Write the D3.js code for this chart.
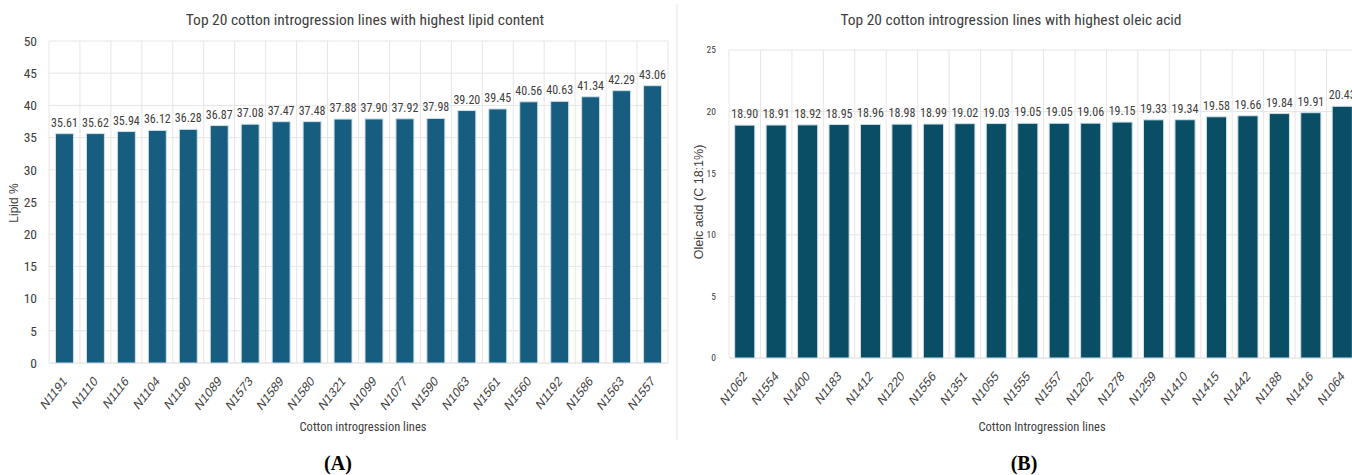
<!DOCTYPE html>
<html>
<head>
<meta charset="utf-8">
<script src="https://cdn.jsdelivr.net/npm/d3@7"></script>
<style>
  body { margin: 0; background: #fff; }
  svg { display: block; }
  .narrow { font-family: "Liberation Sans Narrow", "Roboto Condensed", "Liberation Sans", sans-serif; }
</style>
</head>
<body>
<svg id="chart" width="1352" height="475"></svg>
<script>
// panel A: lipid content
const lipidLines = ["N1191", "N1110", "N1116", "N1104", "N1190", "N1089", "N1573", "N1589", "N1580", "N1321",
    "N1099", "N1077", "N1590", "N1063", "N1561", "N1560", "N1192", "N1586", "N1563", "N1557"];
const lipidValues = [35.61, 35.62, 35.94, 36.12, 36.28, 36.87, 37.08, 37.47, 37.48, 37.88,
    37.90, 37.92, 37.98, 39.20, 39.45, 40.56, 40.63, 41.34, 42.29, 43.06];
const lipidTicks = [0, 5, 10, 15, 20, 25, 30, 35, 40, 45, 50];

// panel B: oleic acid
const oleicLines = ["N1062", "N1554", "N1400", "N1183", "N1412", "N1220", "N1556", "N1351", "N1055", "N1555",
    "N1557", "N1202", "N1278", "N1259", "N1410", "N1415", "N1442", "N1188", "N1416", "N1064"];
const oleicValues = [18.90, 18.91, 18.92, 18.95, 18.96, 18.98, 18.99, 19.02, 19.03, 19.05,
    19.05, 19.06, 19.15, 19.33, 19.34, 19.58, 19.66, 19.84, 19.91, 20.43];
const oleicTicks = [0, 5, 10, 15, 20, 25];

const svg = d3.select("#chart");

// thin divider between the two panels
svg.append("line")
    .attr("x1", 677).attr("x2", 677)
    .attr("y1", 4).attr("y2", 440)
    .attr("stroke", "#e4e4e4");

const drawPanel = (cfg) => {
    const data = cfg.lines.map((name, i) => ({ name, value: cfg.values[i] }));

    const x = d3.scaleBand()
        .domain(cfg.lines)
        .range([cfg.left, cfg.right])
        .paddingInner(cfg.pad)
        .paddingOuter(cfg.pad / 2);

    const y = d3.scaleLinear()
        .domain([0, d3.max(cfg.ticks)])
        .range([cfg.bottom, cfg.top]);

    const g = svg.append("g");

    // horizontal gridlines
    g.append("g")
        .selectAll("line")
        .data(cfg.ticks)
        .join("line")
        .attr("x1", cfg.left).attr("x2", cfg.right)
        .attr("y1", d => y(d)).attr("y2", d => y(d))
        .attr("stroke", d => d === 0 ? "#d9d9d9" : "#e6e6e6");

    // vertical gridlines between categories
    const step = x.step();
    g.append("g")
        .selectAll("line")
        .data(d3.range(cfg.lines.length + 1))
        .join("line")
        .attr("x1", i => cfg.left + i * step).attr("x2", i => cfg.left + i * step)
        .attr("y1", cfg.top).attr("y2", cfg.bottom)
        .attr("stroke", "#e6e6e6");

    // y tick labels
    g.append("g")
        .selectAll("text")
        .data(cfg.ticks)
        .join("text")
        .attr("class", "narrow")
        .attr("x", cfg.left - cfg.tickGap)
        .attr("y", d => y(d))
        .attr("dy", "0.35em")
        .attr("text-anchor", "end")
        .attr("font-size", cfg.tickSize)
        .attr("fill", "#404040")
        .text(d => d);

    // bars
    g.append("g")
        .selectAll("rect")
        .data(data)
        .join("rect")
        .attr("x", d => x(d.name))
        .attr("y", d => y(d.value))
        .attr("width", x.bandwidth())
        .attr("height", d => cfg.bottom - y(d.value))
        .attr("fill", cfg.color)
        .attr("stroke", "#cfe0ea")
        .attr("stroke-width", 1);

    // value labels
    g.append("g")
        .selectAll("text")
        .data(data)
        .join("text")
        .attr("class", "narrow")
        .attr("x", d => x(d.name) + x.bandwidth() / 2)
        .attr("y", d => y(d.value) - 7)
        .attr("text-anchor", "middle")
        .attr("font-size", 12)
        .attr("fill", "#404040")
        .text(d => d.value.toFixed(2));

    // rotated category labels (squeezed sideways like the source figure)
    g.append("g")
        .selectAll("text")
        .data(data)
        .join("text")
        .attr("transform", d => `translate(${x(d.name) + x.bandwidth() / 2 + 3},${cfg.bottom + 19}) scale(0.78,1) rotate(-45)`)
        .attr("text-anchor", "end")
        .attr("font-family", "Liberation Sans, Arial, sans-serif")
        .attr("font-size", 14)
        .attr("fill", "#404040")
        .text(d => d.name);

    // chart title
    g.append("text")
        .attr("class", "narrow")
        .attr("x", cfg.titleX)
        .attr("y", 25)
        .attr("text-anchor", "middle")
        .attr("font-size", 15.5)
        .attr("fill", "#404040")
        .text(cfg.title);

    // x axis title
    g.append("text")
        .attr("class", "narrow")
        .attr("x", cfg.xTitleX)
        .attr("y", 431)
        .attr("text-anchor", "middle")
        .attr("font-size", 12.5)
        .attr("fill", "#404040")
        .text(cfg.xTitle);

    // y axis title
    g.append("text")
        .attr("transform", `translate(${cfg.yTitleX},${cfg.yTitleY}) rotate(-90)`)
        .attr("text-anchor", "middle")
        .attr("font-family", cfg.yTitleFont)
        .attr("font-size", cfg.yTitleSize)
        .attr("fill", "#404040")
        .text(cfg.yTitle);

    // panel letter
    g.append("text")
        .attr("x", cfg.letterX)
        .attr("y", 470)
        .attr("text-anchor", "middle")
        .attr("font-family", "Liberation Serif, DejaVu Serif, serif")
        .attr("font-size", 20)
        .attr("font-weight", "bold")
        .attr("fill", "#000")
        .text(cfg.letter);
};

drawPanel({
    lines: lipidLines, values: lipidValues, ticks: lipidTicks,
    left: 49, right: 668, top: 41, bottom: 363, pad: 0.42,
    color: "#175d80", tickSize: 13.5, tickGap: 12,
    title: "Top 20 cotton introgression lines with highest lipid content", titleX: 365,
    xTitle: "Cotton introgression lines", xTitleX: 363,
    yTitle: "Lipid %", yTitleX: 18, yTitleY: 203, yTitleFont: "Liberation Sans Narrow, sans-serif", yTitleSize: 12,
    letter: "(A)", letterX: 338
});

drawPanel({
    lines: oleicLines, values: oleicValues, ticks: oleicTicks,
    left: 729, right: 1358, top: 50, bottom: 358, pad: 0.36,
    color: "#0a4e66", tickSize: 9.5, tickGap: 13,
    title: "Top 20 cotton introgression lines with highest oleic acid", titleX: 1011,
    xTitle: "Cotton Introgression lines", xTitleX: 1042,
    yTitle: "Oleic acid (C 18:1%)", yTitleX: 703, yTitleY: 202, yTitleFont: "Liberation Sans, Arial, sans-serif", yTitleSize: 12.5,
    letter: "(B)", letterX: 1024
});
</script>
</body>
</html>
